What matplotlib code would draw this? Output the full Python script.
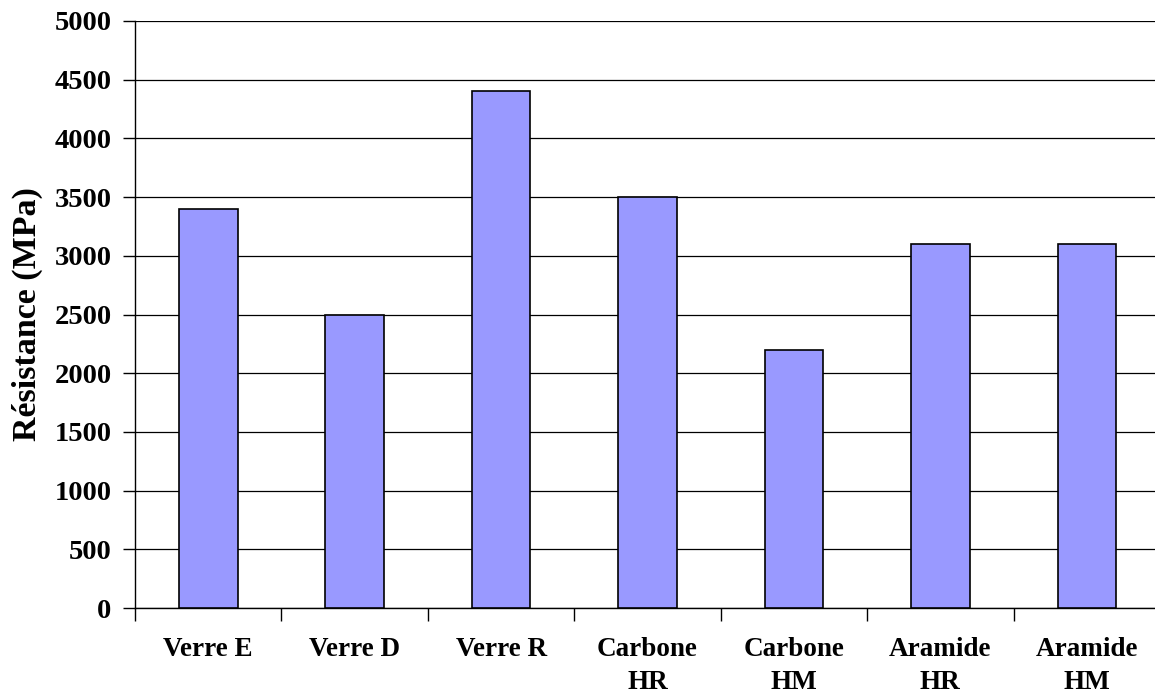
import matplotlib
matplotlib.use("Agg")
import matplotlib.pyplot as plt
import numpy as np

categories = ["Verre E", "Verre D", "Verre R", "Carbone\nHR", "Carbone\nHM", "Aramide\nHR", "Aramide\nHM"]
values = [3400, 2500, 4400, 3500, 2200, 3100, 3100]
yticks = [0, 500, 1000, 1500, 2000, 2500, 3000, 3500, 4000, 4500, 5000]

plt.rcParams['font.family'] = ['Liberation Serif', 'DejaVu Serif']
plt.rcParams['font.weight'] = 'bold'

W, H = 1155, 691
fig = plt.figure(figsize=(W/100, H/100), dpi=100)
left, right, top, bottom = 135, 1160, 21, 608
ax = fig.add_axes([left/W, (H-bottom)/H, (right-left)/W, (bottom-top)/H])

x = np.arange(len(categories))
ax.bar(x, values, width=0.4, color="#9999FF", edgecolor="black", linewidth=1.2, zorder=3)

ax.set_xlim(-0.5, len(categories)-0.5)
ax.set_ylim(0, 5000)
ax.set_yticks(yticks)
ax.set_yticklabels([str(v) for v in yticks], fontsize=20.5, fontweight='bold')
ax.yaxis.grid(True, color="black", linewidth=0.9, zorder=0)
ax.set_axisbelow(True)

ax.set_xticks(np.arange(len(categories)+1)-0.5, minor=False)
ax.set_xticklabels([])
ax.set_xticks(x, minor=True)
ax.set_xticklabels(categories, minor=True, fontsize=19.5, fontweight='bold', linespacing=1.4, va='top')
ax.tick_params(axis='x', which='minor', length=0, pad=21)
ax.tick_params(axis='x', which='major', length=9, width=1, direction='out')
ax.tick_params(axis='y', length=9, width=1, direction='out', pad=8)

for s in ['top', 'right']:
    ax.spines[s].set_visible(False)
ax.spines['left'].set_linewidth(1)
ax.spines['bottom'].set_linewidth(1)

ax.set_ylabel("Résistance (MPa)", fontsize=24.5, fontweight='bold', labelpad=8)

fig.savefig("out.png", dpi=100)
